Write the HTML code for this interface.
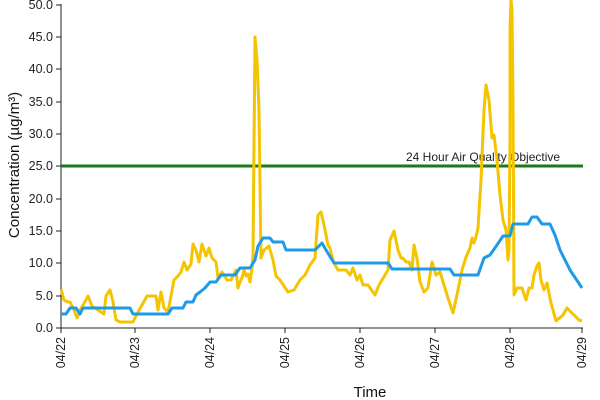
<!DOCTYPE html>
<html><head><style>body{margin:0;background:#fff}svg{display:block;font-family:"Liberation Sans",Arial,sans-serif}</style></head><body>
<svg width="600" height="400" xmlns="http://www.w3.org/2000/svg">
<g fill="#222" font-size="12.5" text-anchor="end">
<text x="53" y="332">0.0</text><text x="53" y="300">5.0</text><text x="53" y="267">10.0</text><text x="53" y="235">15.0</text><text x="53" y="203">20.0</text><text x="53" y="170">25.0</text><text x="53" y="138">30.0</text><text x="53" y="106">35.0</text><text x="53" y="73">40.0</text><text x="53" y="41">45.0</text><text x="53" y="9">50.0</text>
</g>
<text transform="translate(19,165) rotate(-90)" text-anchor="middle" font-size="15" fill="#111">Concentration (µg/m³)</text>
<g stroke="#222" stroke-width="1">
<line x1="61" y1="4" x2="61" y2="328"/><line x1="61" y1="328" x2="583" y2="328"/>
<line x1="56" y1="328" x2="61" y2="328"/><line x1="56" y1="296" x2="61" y2="296"/><line x1="56" y1="263" x2="61" y2="263"/><line x1="56" y1="231" x2="61" y2="231"/><line x1="56" y1="199" x2="61" y2="199"/><line x1="56" y1="166" x2="61" y2="166"/><line x1="56" y1="134" x2="61" y2="134"/><line x1="56" y1="102" x2="61" y2="102"/><line x1="56" y1="69" x2="61" y2="69"/><line x1="56" y1="37" x2="61" y2="37"/><line x1="56" y1="5" x2="61" y2="5"/>
<line x1="61" y1="328" x2="61" y2="333"/><line x1="135" y1="328" x2="135" y2="333"/><line x1="210" y1="328" x2="210" y2="333"/><line x1="285" y1="328" x2="285" y2="333"/><line x1="360" y1="328" x2="360" y2="333"/><line x1="435" y1="328" x2="435" y2="333"/><line x1="510" y1="328" x2="510" y2="333"/><line x1="582" y1="328" x2="582" y2="333"/>
</g>
<g fill="#222" font-size="12.5" text-anchor="end">
<text transform="translate(65,337) rotate(-90)">04/22</text><text transform="translate(139,337) rotate(-90)">04/23</text><text transform="translate(214,337) rotate(-90)">04/24</text><text transform="translate(289,337) rotate(-90)">04/25</text><text transform="translate(364,337) rotate(-90)">04/26</text><text transform="translate(439,337) rotate(-90)">04/27</text><text transform="translate(514,337) rotate(-90)">04/28</text><text transform="translate(586,337) rotate(-90)">04/29</text>
</g>
<text x="370" y="397" text-anchor="middle" font-size="15" fill="#111">Time</text>
<line x1="61" y1="166" x2="583" y2="166" stroke="#1a7a1a" stroke-width="3"/>
<text x="406" y="161" font-size="12" fill="#222">24 Hour Air Quality Objective</text>
<polyline fill="none" stroke="#f5c400" stroke-width="3" stroke-linejoin="round" points="61,289 64,300 68,302 70,302 74,310 77,318 80,310 86,300 88,296 92,306 98,310 104,314 106,296 110,290 113,302 116,320 120,322 133,322 137,314 147,296 156,296 158,310 161,292 164,308 168,312 174,280 178,276 181,272 184,262 187,270 191,264 193,244 196,250 199,262 202,244 206,256 209,248 212,258 216,262 218,278 222,272 227,280 231,280 236,270 238,288 240,282 242,278 244,270 246,276 248,274 250,282 252,268 253,255 255,37 257,60 259,110 261,258 264,250 269,246 273,260 276,276 280,280 284,286 288,292 294,290 297,285 300,280 305,275 310,265 315,258 318,215 321,212 324,225 328,245 330,248 333,260 335,265 338,270 346,270 350,275 353,268 357,280 360,275 363,285 368,285 375,295 379,285 385,275 388,270 390,240 394,231 398,250 401,258 403,258 406,262 409,262 412,270 414,245 417,258 420,282 424,292 428,288 432,262 436,275 440,272 444,285 448,298 453,313 458,290 462,270 466,257 470,248 472,238 474,243 476,237 478,228 481,180 484,110 486,85 489,100 492,138 494,135 497,160 500,195 503,220 506,230 508,260 509,250 510,140 510,30 511,0 512,10 513,100 514,295 517,288 522,288 526,300 529,288 532,288 534,275 537,266 539,263 541,280 544,290 547,283 551,303 556,321 563,315 567,308 571,312 575,316 579,320 582,321"/>
<polyline fill="none" stroke="#1e9be8" stroke-width="3" stroke-linejoin="round" points="61,314 66,314 70,308 76,308 80,314 83,308 130,308 133,314 168,314 172,308 183,308 186,302 193,302 196,295 200,292 205,288 210,282 216,282 221,275 235,275 240,268 250,268 255,260 258,246 263,238 270,238 273,242 283,242 286,250 315,250 322,243 326,250 334,263 388,263 392,269 450,269 454,275 478,275 484,258 490,255 497,245 503,236 510,236 513,224 528,224 532,217 537,217 542,224 550,224 555,235 560,250 570,270 578,282 582,288"/>
</svg>
</body></html>
